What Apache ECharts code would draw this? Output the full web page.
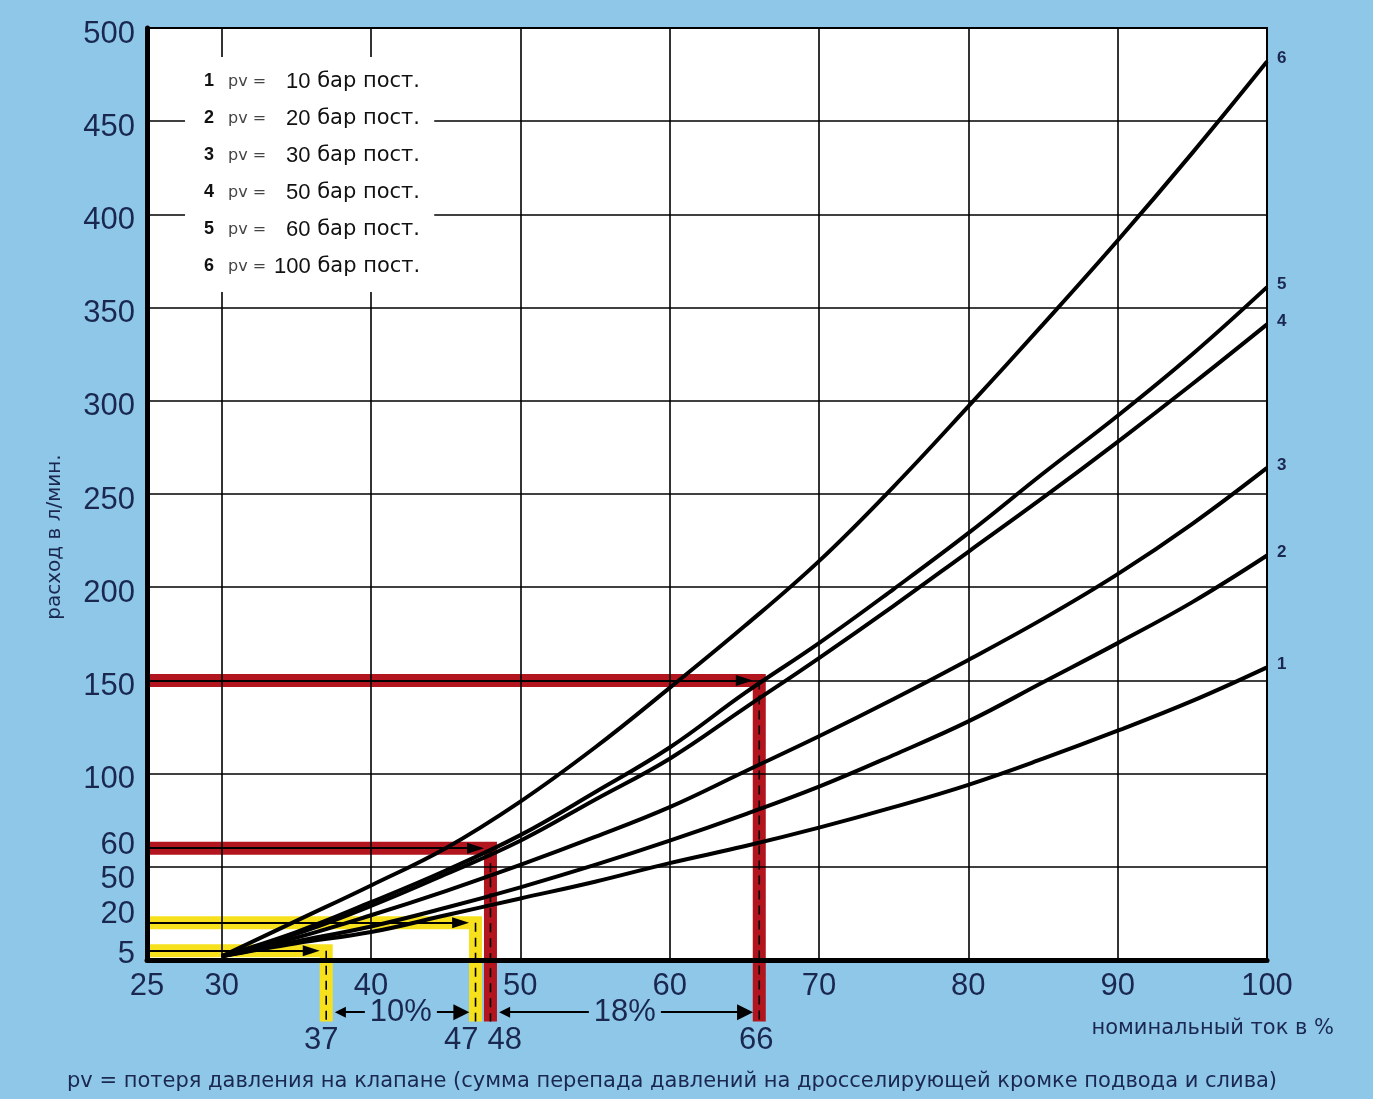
<!DOCTYPE html>
<html>
<head>
<meta charset="utf-8">
<script src="https://cdn.jsdelivr.net/npm/echarts@6/dist/echarts.min.js"></script>
<style>
html,body{margin:0;padding:0;background:#8fc7e9;}
#c{width:1373px;height:1099px;}
</style>
</head>
<body>
<div id="c"></div>
<script>
// ---------- data ----------
const currentPct = [30, 35, 40, 45, 50, 55, 60, 65, 70, 75, 80, 85, 90, 95, 100];
const flowPv10  = [2, 9, 15, 24, 33, 42, 52, 61, 71, 82, 94, 108, 123, 139, 157];
const flowPv20  = [2, 10, 18, 28, 39, 51, 64, 78, 93, 110, 128, 149, 170, 192, 217];
const flowPv30  = [2, 12, 24, 37, 51, 66, 82, 101, 120, 140, 161, 183, 207, 234, 264];
const flowPv50  = [2, 14, 29, 46, 64, 86, 108, 135, 162, 190, 219, 248, 278, 309, 341];
const flowPv60  = [2, 15, 31, 48, 67, 90, 114, 143, 170, 199, 229, 261, 292, 325, 361];
const flowPv100 = [2, 21, 40, 60, 85, 114, 146, 179, 214, 254, 297, 341, 386, 433, 482];
const pressures = [10, 20, 30, 50, 60, 100];
const curveNumbers = ['1', '2', '3', '4', '5', '6'];

const yLabelValues = [5, 20, 50, 60, 100, 150, 200, 250, 300, 350, 400, 450, 500];
const yGridValues = [50, 100, 150, 200, 250, 300, 350, 400, 450];
const xLabelValues = [25, 30, 40, 50, 60, 70, 80, 90, 100];
const xGridValues = [30, 40, 50, 60, 70, 80, 90];

// example readings (flow level -> current)
const yellowFlows = [5, 20];
const yellowCurrents = [37, 47];
const redFlows = [60, 150];
const redCurrents = [48, 66];
const stepLabels = ['10%', '18%'];

const xAxisTitle = 'номинальный ток в %';
const yAxisTitle = 'расход в л/мин.';
const footnote = 'pv = потеря давления на клапане (сумма перепада давлений на дросселирующей кромке подвода и слива)';

// ---------- layout / style constants ----------
const NAVY = '#1a2850';
const BG = '#8fc7e9';
const RED = '#b3151f';
const YELLOW = '#f6e11c';
const FONT = 'Liberation Sans, Arial, sans-serif';
const WIDE = 'DejaVu Sans, sans-serif';
const BAND_BOTTOM = -33;   // band tails run below the axis
const DIM_LEVEL = -28;     // dimension arrows row
const NUM_LEVEL = -43;     // current value labels row

const curves = [flowPv10, flowPv20, flowPv30, flowPv50, flowPv60, flowPv100];

const series = [];

function addBand(flow, current, color) {
  series.push({
    type: 'line',
    data: [[25, flow], [current, flow], [current, BAND_BOTTOM]],
    symbol: 'none', showSymbol: false, clip: false, z: 2, silent: true,
    lineStyle: {color: color, width: 13, join: 'miter', cap: 'butt'},
    markLine: {
      silent: true, animation: false,
      symbol: ['none', 'triangle'], symbolSize: [11, 17],
      label: {show: false},
      lineStyle: {color: '#000', width: 1.8, type: 'solid'},
      data: [[{coord: [25, flow]}, {coord: [current - 1.0, flow]}]]
    }
  });
  series.push({
    type: 'line',
    data: [[current, flow], [current, BAND_BOTTOM]],
    symbol: 'none', showSymbol: false, clip: false, z: 3, silent: true,
    lineStyle: {color: '#000', width: 1.6, type: [9, 6]}
  });
}
yellowFlows.forEach((f, i) => addBand(f, yellowCurrents[i], YELLOW));
redFlows.forEach((f, i) => addBand(f, redCurrents[i], RED));

curves.forEach((arr, i) => {
  series.push({
    type: 'line',
    name: 'pv = ' + pressures[i] + ' бар пост.',
    data: currentPct.map((x, j) => [x, arr[j]]),
    smooth: 0.4, symbol: 'none', showSymbol: false, z: 5,
    lineStyle: {color: '#000', width: 4},
    endLabel: {
      show: true, formatter: curveNumbers[i], color: NAVY, fontWeight: 'bold',
      fontSize: 17, fontFamily: FONT, distance: 10, offset: [0, -3]
    }
  });
});

// dimension arrows between readings
const dimPairs = [[yellowCurrents[0], yellowCurrents[1]], [redCurrents[0], redCurrents[1]]];
series.push({
  type: 'lines', coordinateSystem: 'cartesian2d', clip: false, silent: true, z: 6,
  symbol: ['triangle', 'triangle'], symbolSize: [11, 16],
  lineStyle: {color: '#000', width: 1.8, opacity: 1},
  data: dimPairs.map(p => ({coords: [[p[0] + 0.95, DIM_LEVEL], [p[1] - 0.95, DIM_LEVEL]]}))
});
series.push({
  type: 'scatter', clip: false, silent: true, z: 7, symbolSize: 0,
  itemStyle: {opacity: 1},
  data: dimPairs.map((p, i) => ({name: stepLabels[i], value: [(p[0] + p[1]) / 2, DIM_LEVEL]})),
  label: {
    show: true, position: 'inside', formatter: '{b}', color: NAVY, fontSize: 31,
    fontFamily: FONT, backgroundColor: BG, padding: [0, 5]
  }
});
const currentMarks = [
  {name: String(yellowCurrents[0]), value: [yellowCurrents[0], NUM_LEVEL], label: {offset: [-5, 0]}},
  {name: String(yellowCurrents[1]), value: [yellowCurrents[1], NUM_LEVEL], label: {align: 'right', offset: [3, 0]}},
  {name: String(redCurrents[0]), value: [redCurrents[0], NUM_LEVEL], label: {align: 'left', offset: [-3, 0]}},
  {name: String(redCurrents[1]), value: [redCurrents[1], NUM_LEVEL], label: {offset: [-3, 0]}}
];
series.push({
  type: 'scatter', clip: false, silent: true, z: 7, symbolSize: 0,
  itemStyle: {opacity: 1},
  data: currentMarks,
  label: {show: true, position: 'inside', formatter: '{b}', color: NAVY, fontSize: 31, fontFamily: FONT}
});

// legend box text
const legendText = pressures.map((pv, i) =>
  '{n|' + curveNumbers[i] + '}{' + (String(pv).length > 2 ? 'p6' : 'p') + '|pv =}{v|' + pv + '}{u| бар пост.}'
).join('\n');

const yLabelShift = {
  60: 'a', 50: 'b', 20: 'c', 5: 'd'
};

const option = {
  animation: false,
  backgroundColor: BG,
  textStyle: {fontFamily: FONT},
  title: [
    {
      left: 185, top: 57, text: legendText,
      backgroundColor: '#ffffff', padding: [6, 14, 7, 19], z: 8,
      textStyle: {
        lineHeight: 37, fontWeight: 'normal',
        rich: {
          n: {fontSize: 18, fontWeight: 'bold', color: '#111', width: 24, lineHeight: 37, fontFamily: FONT},
          p: {fontSize: 16, fontWeight: 'normal', color: '#444', width: 58, lineHeight: 37, fontFamily: WIDE},
          p6: {fontSize: 16, fontWeight: 'normal', color: '#444', width: 46, lineHeight: 37, fontFamily: WIDE},
          v: {fontSize: 22, fontWeight: 'normal', color: '#111', lineHeight: 37, fontFamily: FONT},
          u: {fontSize: 21, fontWeight: 'normal', color: '#111', lineHeight: 37, fontFamily: WIDE}
        }
      }
    },
    {
      right: 34, top: 1013, text: xAxisTitle,
      textStyle: {fontSize: 21, fontWeight: 'normal', color: NAVY, fontFamily: WIDE}
    },
    {
      left: 62, top: 1066, text: footnote,
      textStyle: {fontSize: 21, fontWeight: 'normal', color: NAVY, fontFamily: WIDE}
    }
  ],
  grid: {
    left: 147, right: 106, top: 28, bottom: 139,
    show: true, backgroundColor: '#ffffff', borderColor: '#000', borderWidth: 2
  },
  xAxis: {
    type: 'value', min: 25, max: 100, z: 3,
    axisLine: {show: true, lineStyle: {color: '#000', width: 5}},
    axisTick: {show: false, customValues: xGridValues},
    splitLine: {show: true, lineStyle: {color: '#000', width: 1.6}},
    axisLabel: {customValues: xLabelValues, color: NAVY, fontSize: 31, margin: 11, fontFamily: FONT,
      showMinLabel: true, showMaxLabel: true}
  },
  yAxis: {
    type: 'value', min: 0, max: 500, z: 3,
    name: yAxisTitle, nameLocation: 'middle', nameGap: 82, nameRotate: 90,
    nameTextStyle: {fontSize: 20, color: NAVY, fontFamily: WIDE, padding: [0, 86, 0, 0]},
    axisLine: {show: true, lineStyle: {color: '#000', width: 5}},
    axisTick: {show: false, customValues: yGridValues},
    splitLine: {show: true, lineStyle: {color: '#000', width: 1.6}},
    axisLabel: {
      customValues: yLabelValues, color: NAVY, fontSize: 31, margin: 12, fontFamily: FONT,
      showMinLabel: true, showMaxLabel: true, hideOverlap: false,
      formatter: function (v) {
        const key = yLabelShift[v] || 'g';
        return '{' + key + '|' + v + '}';
      },
      rich: {
        g: {fontSize: 31, color: NAVY, fontFamily: FONT, padding: [12, 0, 0, 0]},
        a: {fontSize: 31, color: NAVY, fontFamily: FONT, padding: [0, 0, 6, 0]},
        b: {fontSize: 31, color: NAVY, fontFamily: FONT, padding: [26, 0, 0, 0]},
        c: {fontSize: 31, color: NAVY, fontFamily: FONT, padding: [0, 0, 16, 0]},
        d: {fontSize: 31, color: NAVY, fontFamily: FONT, padding: [8, 0, 0, 0]}
      }
    }
  },
  series: series
};

const chart = echarts.init(document.getElementById('c'));
chart.setOption(option);
</script>
</body>
</html>
